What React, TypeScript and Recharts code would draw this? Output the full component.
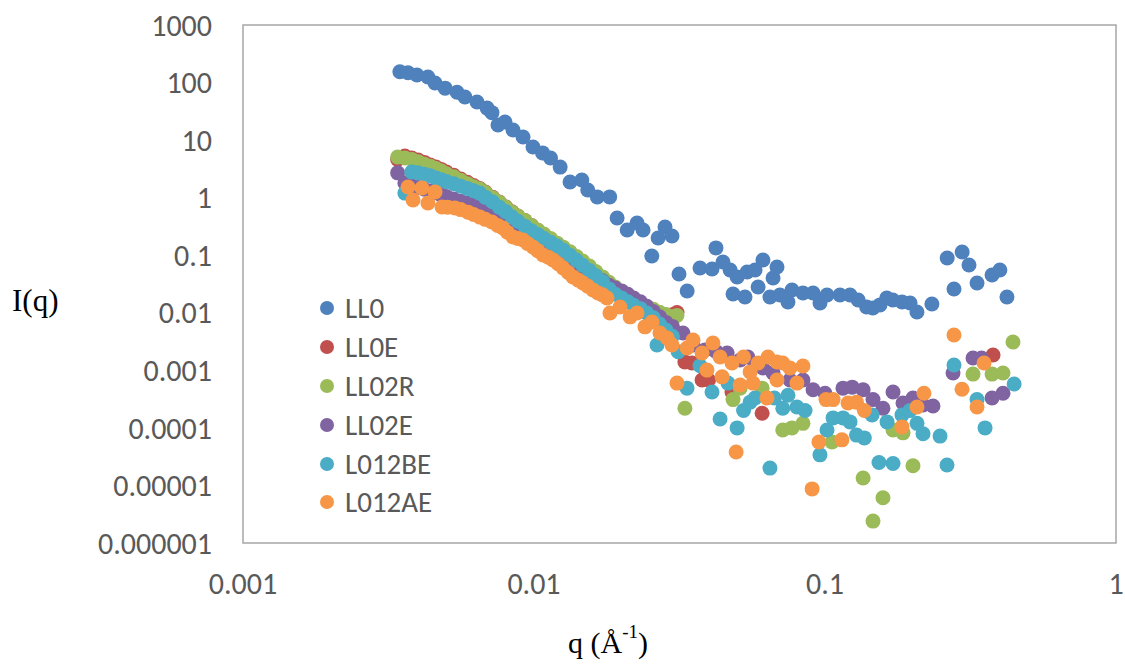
import React from 'react';
import { ScatterChart, Scatter, XAxis, YAxis, ReferenceArea } from 'recharts';

const seriesNames = ['LL0', 'LL0E', 'LL02R', 'LL02E', 'L012BE', 'L012AE'];
const seriesColors = ['#4f81bd', '#c0504d', '#9bbb59', '#8064a2', '#4bacc6', '#f79646'];

const xTicks = [0.001, 0.01, 0.1, 1];
const xTickLabels = ['0.001', '0.01', '0.1', '1'];
const yTicks = [0.000001, 0.00001, 0.0001, 0.001, 0.01, 0.1, 1, 10, 100, 1000];
const yTickLabels = ['0.000001', '0.00001', '0.0001', '0.001', '0.01', '0.1', '1', '10', '100', '1000'];

// shared q values of the low-q part where the five diluted samples overlap
const qDense = [
  0.0034, 0.0036, 0.0038, 0.004, 0.0042, 0.0044, 0.0046, 0.0048, 0.005, 0.0053,
  0.0056, 0.0059, 0.0062, 0.0065, 0.0068, 0.0072, 0.0076, 0.008, 0.0084, 0.0088,
  0.0093, 0.0098, 0.0103, 0.0108, 0.0114, 0.012, 0.0126, 0.0133, 0.014, 0.0147,
  0.0155, 0.0163, 0.0172, 0.0181, 0.019, 0.02, 0.021, 0.022, 0.0232, 0.0244,
  0.0257, 0.027, 0.0284, 0.0299,
];

const ll0eDense = [
  4.6, 5.3, 4.9, 4.5, 4.1, 3.7, 3.4, 3.1, 2.8, 2.45,
  2.1, 1.85, 1.62, 1.45, 1.25, 1.02, 0.84, 0.69, 0.57, 0.48,
  0.4, 0.33, 0.27, 0.23, 0.19, 0.158, 0.133, 0.11, 0.09, 0.075,
  0.061, 0.049, 0.04, 0.032, 0.026, 0.022, 0.019, 0.016, 0.014, 0.012,
  0.011, 0.0095, 0.0085, 0.0092,
];
const ll02rDense = [
  5.1, 4.9, 4.6, 4.2, 3.8, 3.5, 3.2, 2.9, 2.6, 2.3,
  2.0, 1.74, 1.55, 1.41, 1.23, 1.0, 0.83, 0.68, 0.56, 0.48,
  0.4, 0.33, 0.275, 0.234, 0.195, 0.162, 0.138, 0.115, 0.095, 0.079,
  0.065, 0.052, 0.042, 0.034, 0.028, 0.023, 0.02, 0.017, 0.0148, 0.0129,
  0.0115, 0.0102, 0.0093, 0.0085,
];
const ll02eDense = [
  2.7, 1.8, 1.6, 1.5, 1.4, 1.3, 1.22, 1.12, 1.05, 0.95,
  0.87, 0.8, 0.74, 0.69, 0.62, 0.55, 0.48, 0.42, 0.36, 0.31,
  0.27, 0.23, 0.195, 0.168, 0.142, 0.12, 0.102, 0.085, 0.072, 0.061,
  0.051, 0.043, 0.036, 0.03, 0.027, 0.024, 0.021, 0.018, 0.0155, 0.013,
  0.0105, 0.0085, 0.0068, 0.0058,
];
const l012beDense = [
  null, 1.2, 2.8, 2.7, 2.55, 2.4, 2.2, 2.05, 1.9, 1.75,
  1.58, 1.45, 1.32, 1.2, 1.02, 0.85, 0.68, 0.57, 0.46, 0.39,
  0.32, 0.265, 0.228, 0.197, 0.168, 0.145, 0.123, 0.1, 0.082, 0.067,
  0.054, 0.044, 0.035, 0.026, 0.021, 0.018, 0.0155, 0.0135, 0.0118, 0.0099,
  0.0082, 0.0064, 0.005, 0.0039,
];

// [q, I(q)]
const ll0: [number, number][] = [
  [0.00346, 154], [0.00369, 148], [0.00396, 135], [0.00432, 125], [0.00457, 98], [0.00495, 80],
  [0.00544, 68], [0.00579, 56], [0.00637, 46], [0.0069, 36], [0.00717, 30], [0.00752, 18.3],
  [0.00795, 20.6], [0.00847, 15], [0.00917, 11.3], [0.00992, 7.6], [0.0107, 6.0], [0.0114, 4.9],
  [0.0123, 3.4], [0.0133, 1.87], [0.0146, 2.03], [0.0153, 1.36], [0.0165, 1.03], [0.0182, 1.03],
  [0.0193, 0.444], [0.0209, 0.275], [0.0226, 0.363], [0.0237, 0.275], [0.0254, 0.097], [0.0267, 0.199],
  [0.0282, 0.309], [0.0298, 0.216], [0.0315, 0.0472], [0.0336, 0.0239], [0.0372, 0.06], [0.0409, 0.0577],
  [0.0422, 0.134], [0.0446, 0.0763], [0.0472, 0.0554], [0.0483, 0.0212], [0.0499, 0.0419], [0.0531, 0.0188],
  [0.054, 0.0512], [0.0575, 0.0554], [0.0589, 0.0281], [0.0612, 0.0827], [0.0647, 0.0188], [0.0663, 0.0402],
  [0.0684, 0.0625], [0.07, 0.0204], [0.0746, 0.0154], [0.077, 0.0249], [0.084, 0.0221], [0.091, 0.0221],
  [0.0961, 0.0148], [0.1016, 0.0204], [0.1126, 0.0204], [0.1219, 0.0204], [0.13, 0.0167], [0.139, 0.0126],
  [0.146, 0.0121], [0.1545, 0.0137], [0.163, 0.0181], [0.171, 0.0167], [0.184, 0.0154], [0.196, 0.0148],
  [0.207, 0.0103], [0.233, 0.0142], [0.263, 0.0895], [0.2775, 0.0259], [0.296, 0.1138], [0.3125, 0.0677],
  [0.333, 0.033], [0.375, 0.0454], [0.399, 0.0554], [0.422, 0.0188],
];

const ll0eTail: [number, number][] = [
  [0.031, 0.0101], [0.033, 0.0014], [0.0349, 0.00134], [0.0378, 0.00068], [0.0398, 0.00068],
  [0.0479, 0.00042], [0.0608, 0.00018], [0.378, 0.00185],
];
const ll02rTail: [number, number][] = [
  [0.031, 0.009], [0.033, 0.00022], [0.0483, 0.00031], [0.0511, 0.00049], [0.0608, 0.00049],
  [0.0716, 0.000092], [0.077, 0.0001], [0.084, 0.00012], [0.1057, 0.000057], [0.1352, 0.0000135],
  [0.1462, 0.0000024], [0.1582, 0.0000061], [0.1713, 0.000092], [0.1854, 0.000082], [0.2006, 0.000022],
  [0.3226, 0.00086], [0.375, 0.00086], [0.409, 0.0009], [0.4426, 0.0031],
];
const ll02eTail: [number, number][] = [
  [0.0325, 0.00446], [0.0352, 0.00276], [0.0387, 0.00226], [0.0422, 0.00212], [0.0461, 0.002],
  [0.0511, 0.00151], [0.0543, 0.0017], [0.0575, 0.0013], [0.0612, 0.0011], [0.0663, 0.0009],
  [0.0758, 0.00068], [0.084, 0.00068], [0.091, 0.00046], [0.1, 0.0004], [0.1153, 0.00049],
  [0.124, 0.00051], [0.1352, 0.00046], [0.1462, 0.00031], [0.1582, 0.00022], [0.1713, 0.00042],
  [0.1854, 0.00027], [0.2006, 0.00033], [0.2172, 0.00025], [0.235, 0.00024], [0.2754, 0.0009],
  [0.3226, 0.00164], [0.345, 0.00164], [0.375, 0.00033], [0.409, 0.0004],
];
const l012beTail: [number, number][] = [
  [0.02647, 0.00276], [0.0313, 0.0021], [0.03356, 0.00049], [0.0372, 0.0012], [0.0409, 0.00042],
  [0.0436, 0.000143], [0.0464, 0.0006], [0.0499, 0.0001], [0.0525, 0.0002], [0.0553, 0.00028],
  [0.0575, 0.00033], [0.0647, 0.00002], [0.067, 0.00033], [0.0716, 0.00022], [0.0746, 0.00037],
  [0.0801, 0.00023], [0.0854, 0.0002], [0.0961, 0.000034], [0.1016, 0.000092], [0.1066, 0.000149],
  [0.1153, 0.000149], [0.1219, 0.000127], [0.1283, 0.000075], [0.1365, 0.000067], [0.1451, 0.000168],
  [0.1533, 0.000025], [0.1634, 0.000127], [0.1713, 0.000024], [0.1839, 0.000168], [0.196, 0.0002],
  [0.2071, 0.00012], [0.2172, 0.000079], [0.2485, 0.000072], [0.2626, 0.0000227], [0.2775, 0.00124],
  [0.333, 0.00031], [0.3548, 0.0001], [0.4466, 0.00058],
];
const l012ae: [number, number][] = [
  [0.00369, 1.53], [0.00384, 0.91], [0.00412, 1.47], [0.00432, 0.81], [0.00457, 1.26], [0.00483, 0.69],
  [0.00505, 0.68], [0.00535, 0.66], [0.0056, 0.62], [0.00593, 0.56], [0.0062, 0.51], [0.00652, 0.46],
  [0.0068, 0.42], [0.00717, 0.378], [0.0075, 0.33], [0.00782, 0.297], [0.0081, 0.25], [0.00847, 0.207],
  [0.0088, 0.195], [0.00917, 0.184], [0.0095, 0.16], [0.00992, 0.139], [0.0103, 0.12], [0.01074, 0.101],
  [0.0112, 0.092], [0.01162, 0.083], [0.0121, 0.071], [0.01259, 0.06], [0.0131, 0.05], [0.01361, 0.042],
  [0.0142, 0.037], [0.01473, 0.033], [0.0153, 0.029], [0.01595, 0.0249], [0.0166, 0.022], [0.0172, 0.0205],
  [0.01782, 0.0181], [0.01824, 0.0099], [0.01975, 0.0126], [0.0214, 0.0085], [0.0226, 0.0099], [0.02406, 0.0057],
  [0.02544, 0.0069], [0.0271, 0.00446], [0.0287, 0.00365], [0.0298, 0.00276], [0.031, 0.0006], [0.03356, 0.00245],
  [0.0352, 0.00337], [0.0378, 0.002], [0.0393, 0.00101], [0.0412, 0.00299], [0.0436, 0.0017], [0.0443, 0.00077],
  [0.0479, 0.00134], [0.0495, 0.0000382], [0.0511, 0.000557], [0.0525, 0.0017], [0.0553, 0.00094], [0.0566, 0.0006],
  [0.0589, 0.00134], [0.0632, 0.00033], [0.0637, 0.0017], [0.0684, 0.0014], [0.0684, 0.00068], [0.0716, 0.00134],
  [0.0758, 0.0011], [0.0801, 0.0006], [0.084, 0.00119], [0.0903, 0.0000087], [0.0953, 0.000057], [0.1008, 0.00031],
  [0.1066, 0.00031], [0.1143, 0.000062], [0.12, 0.00027], [0.1283, 0.00028], [0.1365, 0.0002], [0.1839, 0.000104],
  [0.2071, 0.00023], [0.2188, 0.0004], [0.2775, 0.0041], [0.2957, 0.00047], [0.333, 0.00023], [0.352, 0.00134],
];

const fromGrid = (vals: (number | null)[]): [number, number][] =>
  vals.flatMap((v, i) => (v == null ? [] : [[qDense[i], v] as [number, number]]));

const toPoints = (pairs: [number, number][]) => pairs.map(([q, I]) => ({ q, I }));

const seriesData = [
  toPoints(ll0),
  toPoints([...fromGrid(ll0eDense), ...ll0eTail]),
  toPoints([...fromGrid(ll02rDense), ...ll02rTail]),
  toPoints([...fromGrid(ll02eDense), ...ll02eTail]),
  toPoints([...fromGrid(l012beDense), ...l012beTail]),
  toPoints(l012ae),
];

const FONT = 'Carlito, "Open Sans", sans-serif';
const SERIF = '"Liberation Serif", "Times New Roman", serif';

const labelFor = (ticks: number[], labels: string[]) => (v: number) => {
  const i = ticks.findIndex((t) => Math.abs(Math.log10(t) - Math.log10(v)) < 1e-6);
  return i >= 0 ? labels[i] : String(v);
};

// legend drawn over the plot, as in the original workbook chart
const LegendBox = () => (
  <div
    style={{
      position: 'absolute',
      left: 320,
      top: 289,
      fontFamily: FONT,
      fontSize: 29,
      color: '#595959',
    }}
  >
    {seriesNames.map((name, i) => (
      <div key={name} style={{ height: 38.8, display: 'flex', alignItems: 'center' }}>
        <span
          style={{
            display: 'inline-block',
            width: 14,
            height: 14,
            borderRadius: 7,
            background: seriesColors[i],
            marginRight: 11,
          }}
        />
        {name}
      </div>
    ))}
  </div>
);

export default function App() {
  return (
    <div style={{ position: 'relative', width: 1125, height: 665, background: '#fff' }}>
      <style>{'body{margin:0}'}</style>
      <ScatterChart width={1125} height={665} margin={{ top: 25, right: 9, left: 0, bottom: 0 }}>
        <XAxis
          dataKey="q"
          type="number"
          scale="log"
          domain={[0.001, 1]}
          ticks={xTicks}
          allowDataOverflow
          height={122}
          axisLine={false}
          tickLine={false}
          tickMargin={24}
          tickFormatter={labelFor(xTicks, xTickLabels)}
          tick={{ fontSize: 30, fill: '#595959', fontFamily: FONT }}
        />
        <YAxis
          dataKey="I"
          type="number"
          scale="log"
          domain={[0.000001, 1000]}
          ticks={yTicks}
          allowDataOverflow
          width={243}
          axisLine={false}
          tickLine={false}
          tickMargin={25}
          interval={0}
          tickFormatter={labelFor(yTicks, yTickLabels)}
          tick={{ fontSize: 30, fill: '#595959', fontFamily: FONT }}
        />
        <ReferenceArea
          x1={0.001}
          x2={1}
          y1={0.000001}
          y2={1000}
          fill="none"
          fillOpacity={0}
          stroke="#a6a6a6"
          strokeWidth={1.5}
        />
        {seriesNames.map((name, i) => (
          <Scatter
            key={name}
            name={name}
            data={seriesData[i]}
            fill={seriesColors[i]}
            isAnimationActive={false}
            shape={(p: any) => <circle cx={p.cx} cy={p.cy} r={7.5} fill={seriesColors[i]} />}
          />
        ))}
      </ScatterChart>
      <LegendBox />
      <div
        style={{
          position: 'absolute',
          left: 12,
          top: 285,
          fontFamily: SERIF,
          fontSize: 31,
          lineHeight: '31px',
          color: '#000',
        }}
      >
        I(q)
      </div>
      <div
        style={{
          position: 'absolute',
          left: 568,
          top: 628,
          fontFamily: SERIF,
          fontSize: 30,
          lineHeight: '30px',
          color: '#000',
          whiteSpace: 'nowrap',
        }}
      >
        q (Å
        <span style={{ position: 'relative', top: -15, fontSize: 19 }}>-1</span>)
      </div>
    </div>
  );
}
